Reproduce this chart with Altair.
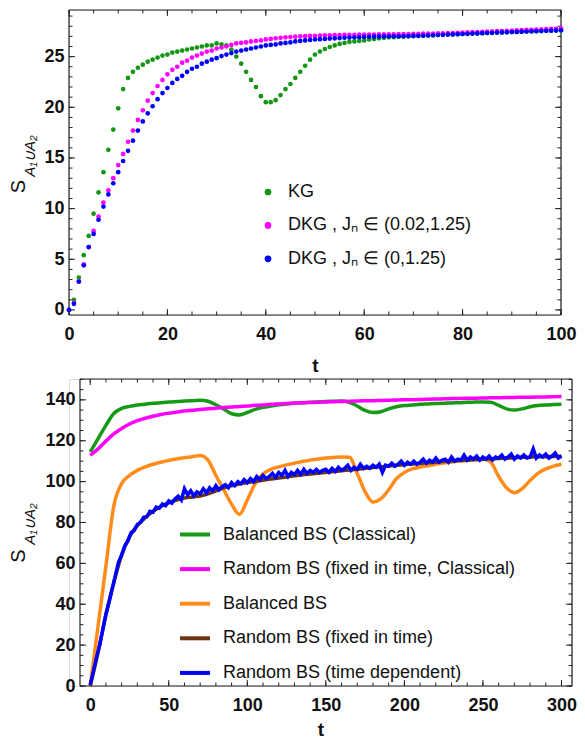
import altair as alt
import pandas as pd

# ---------------- top panel data (t = 0..100) ----------------
t_top = list(range(101))
kg = [0.0, 1.0, 3.2, 5.4, 7.3, 9.5, 11.6, 13.6, 15.8, 17.8, 19.9, 21.8, 22.9, 23.5, 23.9, 24.2, 24.5, 24.7, 24.9, 25.1,
      25.2, 25.4, 25.5, 25.6, 25.7, 25.8, 25.9, 26.0, 26.1, 26.1, 26.3, 26.2, 26.1, 25.7, 25.0, 24.3, 23.5, 22.7, 22.0, 21.1,
      20.5, 20.5, 20.7, 21.2, 21.8, 22.3, 22.9, 23.5, 24.1, 24.7, 25.2, 25.5, 25.75, 25.95, 26.1, 26.25, 26.35, 26.45, 26.5, 26.55,
      26.6, 26.7, 26.75, 26.8, 26.85, 26.9, 26.92, 26.95, 26.97, 27.0, 27.02, 27.04, 27.06, 27.08, 27.1, 27.13, 27.15, 27.17, 27.19, 27.21,
      27.23, 27.25, 27.27, 27.29, 27.31, 27.33, 27.35, 27.37, 27.39, 27.4, 27.42, 27.44, 27.46, 27.47, 27.49, 27.5, 27.52, 27.54, 27.55, 27.57,
      27.58]
dkg_002 = [0.0, 0.7, 2.8, 4.5, 6.2, 7.8, 9.2, 10.6, 11.8, 13.0, 14.3, 15.4, 16.6, 17.7, 18.75, 19.7, 20.65, 21.4, 22.1, 22.7,
           23.25, 23.7, 24.0, 24.4, 24.6, 24.9, 25.1, 25.3, 25.5, 25.6, 25.8, 25.9, 26.0, 26.15, 26.3, 26.35, 26.4, 26.5, 26.55, 26.6,
           26.7, 26.75, 26.8, 26.85, 26.9, 26.93, 26.97, 27.0, 27.02, 27.04, 27.06, 27.08, 27.1, 27.11, 27.12, 27.13, 27.14, 27.15, 27.16, 27.17,
           27.17, 27.18, 27.18, 27.19, 27.19, 27.2, 27.2, 27.21, 27.22, 27.23, 27.24, 27.25, 27.26, 27.27, 27.28, 27.29, 27.3, 27.31, 27.33, 27.35,
           27.37, 27.39, 27.41, 27.43, 27.45, 27.47, 27.49, 27.51, 27.53, 27.55, 27.57, 27.59, 27.61, 27.63, 27.65, 27.67, 27.69, 27.71, 27.73, 27.75,
           27.78]
dkg_0 = [0.0, 0.6, 2.8, 4.4, 6.2, 7.5, 8.9, 10.2, 11.4, 12.5, 13.6, 14.7, 15.7, 16.7, 17.7, 18.6, 19.4, 20.1, 20.8, 21.4,
         21.9, 22.4, 22.8, 23.1, 23.5, 23.8, 24.0, 24.3, 24.5, 24.7, 24.85, 25.05, 25.2, 25.35, 25.5, 25.6, 25.7, 25.8, 25.9, 26.0,
         26.1, 26.15, 26.2, 26.3, 26.35, 26.4, 26.5, 26.55, 26.6, 26.65, 26.7, 26.72, 26.75, 26.78, 26.8, 26.83, 26.86, 26.88, 26.9, 26.92,
         26.94, 26.96, 26.97, 26.98, 26.99, 27.0, 27.0, 27.01, 27.02, 27.03, 27.04, 27.05, 27.07, 27.09, 27.11, 27.13, 27.15, 27.17, 27.19, 27.21,
         27.23, 27.25, 27.27, 27.29, 27.31, 27.33, 27.35, 27.37, 27.39, 27.41, 27.43, 27.44, 27.46, 27.48, 27.5, 27.51, 27.53, 27.55, 27.56, 27.58,
         27.6]
top_names = ["KG", "DKG , Jₙ ∈ (0.02,1.25)", "DKG , Jₙ ∈ (0,1.25)"]
top_colors = ["#149614", "#ff00ff", "#0000ff"]

# ---------------- bottom panel data ----------------
t_smooth = list(range(0, 301, 5))
bal_classical = [114.5, 121, 127.5, 133.3, 135.8, 136.8, 137.5, 137.9, 138.3, 138.6, 138.9, 139.2, 139.4, 139.6, 139.8,
                 139.3, 137.6, 135.5, 133.2, 132.6, 133.8, 135.3, 136.3, 137.0, 137.6, 138.0, 138.3, 138.6, 138.8, 139.0,
                 139.2, 139.3, 139.4, 138.8, 137.0, 134.8, 133.8, 134.2, 135.6, 136.6, 137.2, 137.5, 137.8, 138.0, 138.2,
                 138.3, 138.5, 138.6, 138.8, 138.9, 139.0, 138.8, 137.3, 135.6, 135.0, 135.6, 136.6, 137.2, 137.5, 137.7, 137.9]
rand_classical = [112.9, 116, 119.8, 123.3, 126, 128.2, 129.8, 131, 132, 132.8, 133.5, 134, 134.5, 134.9, 135.3,
                  135.6, 135.9, 136.2, 136.5, 136.8, 137, 137.3, 137.5, 137.8, 138, 138.2, 138.4, 138.6, 138.7, 138.8,
                  139, 139.1, 139.2, 139.3, 139.4, 139.5, 139.6, 139.7, 139.8, 139.9, 140, 140.1, 140.2, 140.3, 140.4,
                  140.5, 140.6, 140.7, 140.75, 140.8, 140.9, 141, 141.05, 141.1, 141.2, 141.25, 141.3, 141.4, 141.45, 141.5, 141.6]
balanced = [0, 29.3, 58.7, 88, 99, 103, 105.5, 107.2, 108.5, 109.5, 110.4, 111.1, 111.7, 112.2, 112.8,
            110.5, 103, 96, 89, 84, 91, 99, 103.8, 106, 107.2, 108.2, 109, 109.8, 110.5, 111.1,
            111.5, 111.8, 112, 111.9, 104, 95, 90, 91.5, 96, 101.5, 104.5, 106.2, 107.1, 107.8, 108.5,
            109.1, 109.6, 110.1, 110.5, 110.9, 111.1, 109.5, 102.5, 97, 94.6, 96.5, 100.5, 104, 106.2, 107.6, 108.5]
rand_fixed = [0, 16.5, 35, 50.5, 64, 73, 78.5, 82.3, 85.5, 87.8, 89.6, 91, 92, 92.5, 93,
              94, 95.5, 97, 98, 98.8, 99.5, 100.1, 100.7, 101.3, 101.8, 102.3, 102.8, 103.3, 103.7, 104.1,
              104.5, 104.9, 105.3, 105.7, 106.1, 106.5, 106.9, 107.3, 107.7, 108, 108.3, 108.6, 108.9, 109.2, 109.5,
              109.8, 110.1, 110.3, 110.5, 110.7, 110.9, 111.1, 111.3, 111.5, 111.7, 111.9, 112, 112.1, 112.2, 112.3, 112.4]
t_noisy = list(range(0, 301, 2))
rand_timedep = [0.5, 7, 14, 20, 27.5, 35, 41, 47.5, 54, 60.5, 64, 68.5, 71, 75, 76, 79, 80, 82.5, 82.8, 85.5,
                85, 87.5, 87, 89, 88.2, 90.5, 89.5, 91.5, 92.8, 91, 96.5, 93.5, 95.5, 93, 95, 94, 96.5, 94.5, 97, 95.5,
                98, 96, 97.5, 98.5, 97, 99.5, 98, 100, 99, 101, 99.5, 101.5, 100, 102.5, 101, 103, 101.5, 102.5, 104, 102,
                104.5, 103, 105.5, 102.5, 104.5, 103.5, 105.5, 103.5, 106, 104, 105.5, 104.5, 106, 104.5, 105.5, 106, 104.5, 106.5, 105, 107,
                105.5, 106.5, 108, 105.5, 107, 106, 108.5, 106.5, 107.5, 106.5, 108, 107, 108.5, 104.5, 108, 107.5, 109, 107.5, 108.5, 110,
                108, 109.5, 108.5, 110, 108.5, 109.5, 111, 109, 110.5, 109.5, 111.5, 109.5, 110.5, 111, 109.5, 112, 110, 111, 110.5, 113,
                110.5, 112, 111, 112.5, 110.5, 112, 111, 112.5, 110.5, 112, 111.5, 113, 111, 112, 113.5, 111, 112.5, 111.5, 113, 111.5,
                112, 116, 111.5, 113, 112, 113.5, 111.5, 112.5, 114, 111.5, 112.5]
bot_names = ["Balanced BS (Classical)", "Random BS (fixed in time, Classical)", "Balanced BS",
             "Random BS (fixed in time)", "Random BS (time dependent)"]
bot_colors = ["#169a16", "#ff00ff", "#ff8c1a", "#6b3510", "#0000ff"]

FONT = "Liberation Sans"
FRAME = "#222222"

top_x_major = [0, 20, 40, 60, 80, 100]
top_y_major = [0, 5, 10, 15, 20, 25]
bot_x_major = [0, 50, 100, 150, 200, 250, 300]
bot_y_major = [0, 20, 40, 60, 80, 100, 120, 140]


def x_axis(values, tpad):
    return alt.Axis(values=values, title="t", labelFont=FONT, labelFontSize=18, labelFontWeight="bold",
                    labelColor="#111", titleFont=FONT, titleFontSize=19, titleFontWeight="bold", titleColor="#111",
                    ticks=False, domain=False, grid=False, labelPadding=10, titlePadding=tpad, labelFlush=False)


def y_axis(values, lpad):
    return alt.Axis(values=values, title=None, labelFont=FONT, labelFontSize=18, labelFontWeight="bold",
                    labelColor="#111", ticks=False, domain=False, grid=False, labelPadding=lpad)


def frame(xs, xax, x0, x1, ys, yax, y0, y1, xmaj, xmin, ymaj, ymin, left_px, W, H):
    """Box frame plus inward major/minor ticks on all four sides."""
    layers = []
    fd = pd.DataFrame({"x0": [x0], "x1": [x1], "y0": [y0], "y1": [y1]})
    fb = alt.Chart(fd).mark_rule(color=FRAME, strokeWidth=1.2)
    X0 = alt.X("x0:Q", scale=xs, axis=xax)
    Y0 = alt.Y("y0:Q", scale=ys, axis=yax)
    layers.append(fb.encode(x=X0, x2="x1:Q", y=Y0))
    layers.append(fb.encode(x=X0, x2="x1:Q", y="y1:Q"))
    layers.append(fb.encode(x=X0, y=Y0, y2="y1:Q"))
    layers.append(fb.encode(x="x1:Q", y=Y0, y2="y1:Q"))
    for vals, L in [(xmaj, 6), (xmin, 3.5)]:
        base = alt.Chart(pd.DataFrame({"v": vals})).mark_rule(color=FRAME, strokeWidth=1)
        xe = alt.X("v:Q", scale=xs, axis=xax)
        layers.append(base.encode(x=xe, y=alt.value(H), y2=alt.value(H - L)))
        layers.append(base.encode(x=xe, y=alt.value(0), y2=alt.value(L)))
    for vals, L in [(ymaj, 6), (ymin, 3.5)]:
        base = alt.Chart(pd.DataFrame({"v": vals})).mark_rule(color=FRAME, strokeWidth=1)
        ye = alt.Y("v:Q", scale=ys, axis=yax)
        layers.append(base.encode(y=ye, x=alt.value(left_px), x2=alt.value(left_px + L)))
        layers.append(base.encode(y=ye, x=alt.value(W - L), x2=alt.value(W)))
    return layers


def y_title(sx, sy, subx, suby):
    s = alt.Chart(pd.DataFrame({"s": ["S"]})).mark_text(
        angle=270, font=FONT, fontSize=20, color="#111", align="center", baseline="middle"
    ).encode(text="s:N", x=alt.value(sx), y=alt.value(sy))
    sub = alt.Chart(pd.DataFrame({"s": ["A₁∪A₂"]})).mark_text(
        angle=270, font=FONT, fontSize=15, fontStyle="italic", color="#111", align="center", baseline="middle"
    ).encode(text="s:N", x=alt.value(subx), y=alt.value(suby))
    return [s, sub]


# ---------------- top chart ----------------
W1, H1 = 492, 305
rows = []
for name, vals in zip(top_names, [kg, dkg_002, dkg_0]):
    for t, v in zip(t_top, vals):
        rows.append({"t": t, "S": v, "series": name})
top_df = pd.DataFrame(rows)
xs1 = alt.Scale(domain=[0, 100], nice=False, zero=False)
ys1 = alt.Scale(domain=[-0.5, 29.6], nice=False, zero=False)
xa1 = x_axis(top_x_major, 13)
ya1 = y_axis(top_y_major, 5)

top_pts = alt.Chart(top_df).mark_circle(size=22, opacity=1).encode(
    x=alt.X("t:Q", scale=xs1, axis=xa1),
    y=alt.Y("S:Q", scale=ys1, axis=ya1),
    color=alt.Color("series:N", scale=alt.Scale(domain=top_names, range=top_colors),
                    legend=alt.Legend(title=None, orient="none", legendX=190, legendY=173, padding=0,
                                      labelFont=FONT, labelFontSize=18, labelColor="#111", symbolType="circle",
                                      symbolSize=45, rowPadding=15.4, labelOffset=11, symbolOpacity=1,
                                      labelLimit=400)),
)
top = alt.layer(
    *frame(xs1, xa1, 0, 100, ys1, ya1, -0.5, 29.6, top_x_major, list(range(0, 101, 5)),
           top_y_major, list(range(0, 30)), 0, W1, H1),
    top_pts,
    *y_title(-50.5, 176.5, -39, 146),
).properties(width=W1, height=H1)

# ---------------- bottom chart ----------------
# the view reaches 11 px left of the frame so that the frame sits where the reference has it
FR_OFF = 11
W2, H2 = 492 + FR_OFF, 307
bx0, bx1 = -6.5, 306.7
bx_left = bx0 - FR_OFF * (bx1 - bx0) / 492
xs2 = alt.Scale(domain=[bx_left, bx1], nice=False, zero=False)
ys2 = alt.Scale(domain=[0, 150.2], nice=False, zero=False)
xa2 = x_axis(bot_x_major, 6)
ya2 = y_axis(bot_y_major, 5 - FR_OFF)
cscale = alt.Scale(domain=bot_names, range=bot_colors)
leg2 = alt.Legend(title=None, orient="none", legendX=109, legendY=138.5, padding=0,
                  labelFont=FONT, labelFontSize=18, labelColor="#111", symbolType="stroke",
                  symbolStrokeWidth=4, symbolSize=900, rowPadding=8.6, labelOffset=11, labelLimit=500)

line_layers = []
series_data = [(bot_names[0], t_smooth, bal_classical), (bot_names[1], t_smooth, rand_classical),
               (bot_names[2], t_smooth, balanced), (bot_names[3], t_smooth, rand_fixed),
               (bot_names[4], t_noisy, rand_timedep)]
for i, (name, ts, vals) in enumerate(series_data):
    d = pd.DataFrame({"t": ts, "S": vals, "series": [name] * len(ts)})
    interp = "linear" if i == 4 else "monotone"
    line_layers.append(alt.Chart(d).mark_line(strokeWidth=3.5, interpolate=interp).encode(
        x=alt.X("t:Q", scale=xs2, axis=xa2),
        y=alt.Y("S:Q", scale=ys2, axis=ya2),
        color=alt.Color("series:N", scale=cscale, legend=leg2),
    ))

bottom = alt.layer(
    *frame(xs2, xa2, bx0, bx1, ys2, ya2, 0, 150.2, bot_x_major, list(range(0, 301, 10)),
           bot_y_major, list(range(0, 151, 5)), FR_OFF, W2, H2),
    *line_layers,
    *y_title(-50.5, 177, -39, 145),
).properties(width=W2, height=H2)

chart = alt.vconcat(top, bottom, spacing=1).resolve_scale(
    color="independent", x="independent", y="independent"
).resolve_legend(color="independent").properties(
    padding={"left": 0, "top": 0, "right": 0, "bottom": 0}
).configure_view(stroke=None).configure(background="white")

chart.save("out.html", embed_options={"renderer": "svg", "actions": False})
